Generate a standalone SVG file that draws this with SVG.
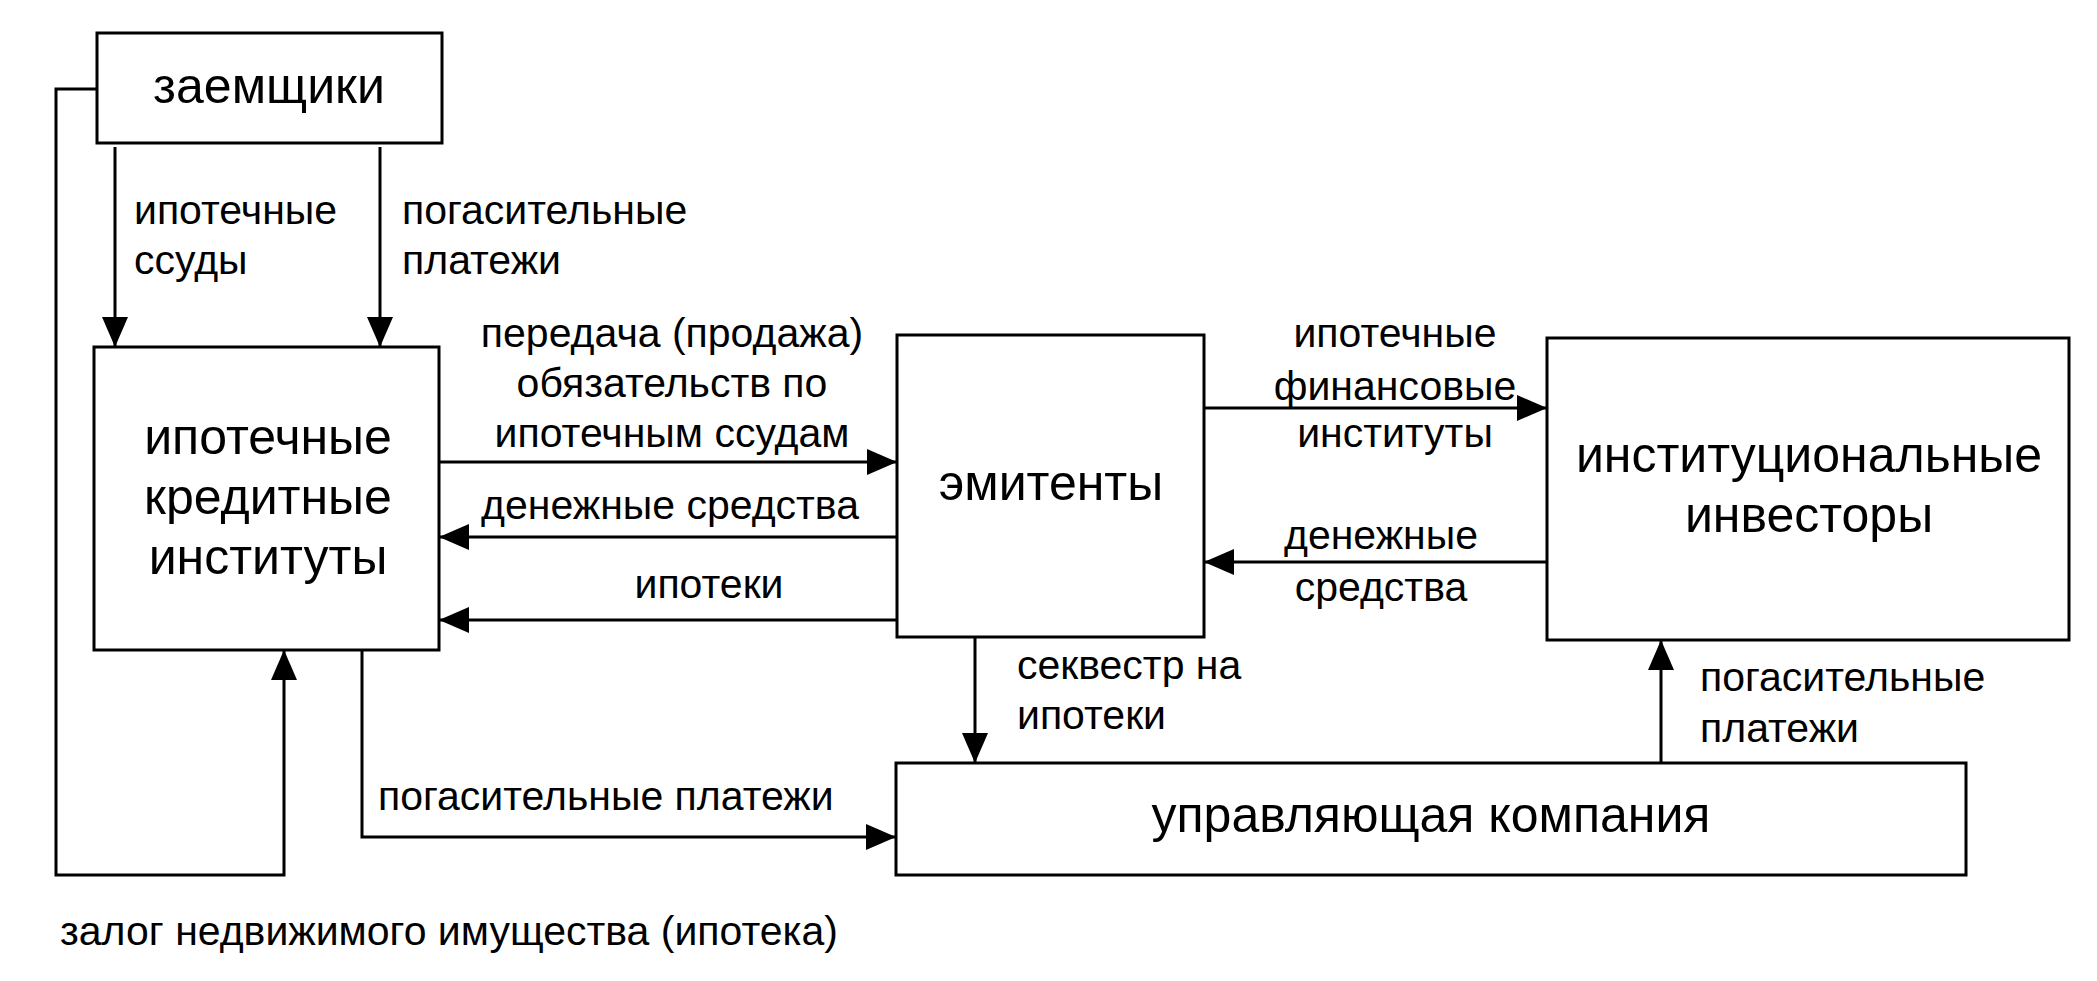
<svg xmlns="http://www.w3.org/2000/svg" width="2097" height="981" viewBox="0 0 2097 981">
<style>
.b{fill:#fff;stroke:#000;stroke-width:3}
.c{fill:none;stroke:#000;stroke-width:3}
text{font-family:"Liberation Sans",Arial,sans-serif;fill:#000}
.l{font-size:41px}
.n{font-size:50px}
.m{text-anchor:middle}
</style>
<defs>
<marker id="a" viewBox="0 0 30 26" refX="30" refY="13" markerWidth="30" markerHeight="26" markerUnits="userSpaceOnUse" orient="auto">
<path d="M0,0L30,13L0,26z" fill="#000"/>
</marker>
</defs>
<rect width="2097" height="981" fill="#fff"/>
<g id="connectors" class="c">
<path d="M115,147V347" marker-end="url(#a)"/>
<path d="M380,147V347" marker-end="url(#a)"/>
<path d="M439,462H897" marker-end="url(#a)"/>
<path d="M897,537H439" marker-end="url(#a)"/>
<path d="M897,620H439" marker-end="url(#a)"/>
<path d="M1204,408H1547" marker-end="url(#a)"/>
<path d="M1547,562H1204" marker-end="url(#a)"/>
<path d="M975,637V763" marker-end="url(#a)"/>
<path d="M1661,763V640" marker-end="url(#a)"/>
<path d="M362,650V837H896" marker-end="url(#a)"/>
<path d="M97,89H56V875H284V650" marker-end="url(#a)"/>
</g>
<g id="zaemshiki"><rect class="b" x="97" y="33" width="345" height="110"/><text class="n m" x="269" y="103">заемщики</text></g>
<g id="iki"><rect class="b" x="94" y="347" width="345" height="303"/><text class="n m" x="268" y="454">ипотечные</text><text class="n m" x="268" y="514">кредитные</text><text class="n m" x="268" y="574">институты</text></g>
<g id="emitenty"><rect class="b" x="897" y="335" width="307" height="302"/><text class="n m" x="1051" y="500">эмитенты</text></g>
<g id="investory"><rect class="b" x="1547" y="338" width="522" height="302"/><text class="n m" x="1809" y="472">институциональные</text><text class="n m" x="1809" y="532">инвесторы</text></g>
<g id="uk"><rect class="b" x="896" y="763" width="1070" height="112"/><text class="n m" x="1431" y="832">управляющая компания</text></g>
<g id="labels" class="l">
<text x="134" y="224">ипотечные</text><text x="134" y="274">ссуды</text>
<text x="402" y="224">погасительные</text><text x="402" y="274">платежи</text>
<text class="m" x="672" y="347">передача (продажа)</text><text class="m" x="672" y="397">обязательств по</text><text class="m" x="672" y="447">ипотечным ссудам</text>
<text class="m" x="670" y="519">денежные средства</text>
<text class="m" x="709" y="598">ипотеки</text>
<text class="m" x="1395" y="347">ипотечные</text><text class="m" x="1395" y="400">финансовые</text><text class="m" x="1395" y="447">институты</text>
<text class="m" x="1381" y="549">денежные</text><text class="m" x="1381" y="601">средства</text>
<text x="1017" y="679">секвестр на</text><text x="1017" y="729">ипотеки</text>
<text x="1700" y="691">погасительные</text><text x="1700" y="742">платежи</text>
<text x="378" y="810">погасительные платежи</text>
<text x="60" y="945">залог недвижимого имущества (ипотека)</text>
</g>
</svg>
